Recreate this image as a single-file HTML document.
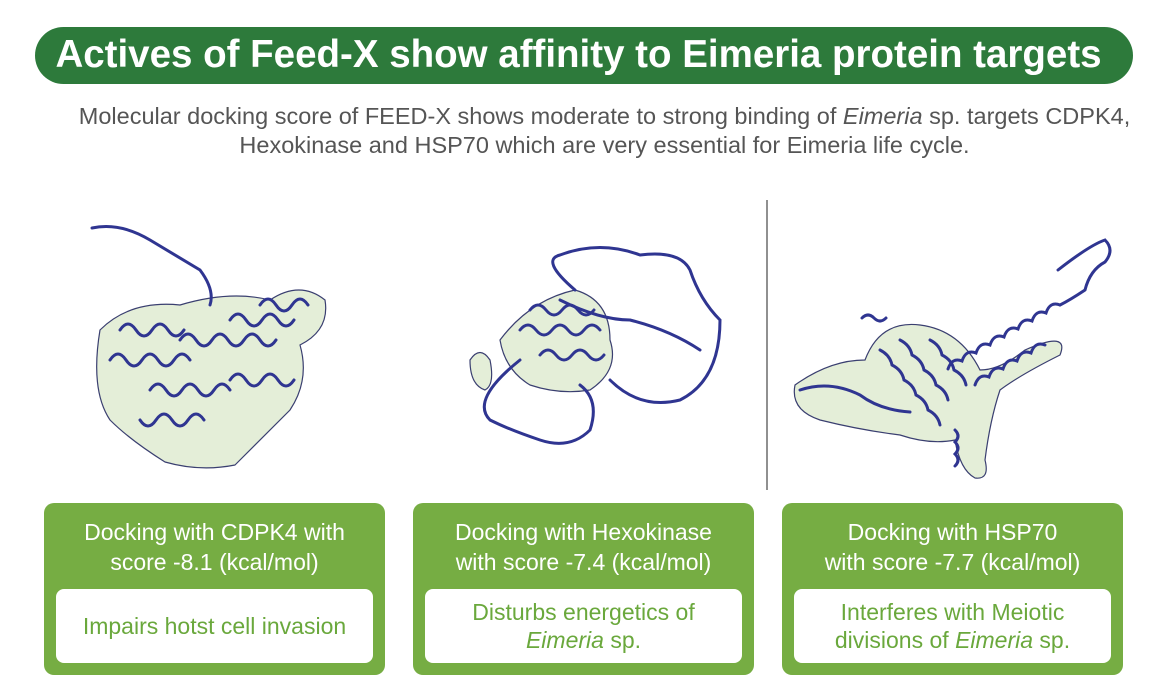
<!DOCTYPE html>
<html><head><meta charset="utf-8"><style>
body{margin:0;width:1151px;height:697px;background:#fff;position:relative;overflow:hidden;font-family:"Liberation Sans",sans-serif}
.pill{position:absolute;left:35px;top:27px;width:1098px;height:57px;background:#2d7a3b;border-radius:29px}
.title{position:absolute;left:0;top:31px;width:1157px;text-align:center;color:#fff;font-weight:bold;font-size:38.5px;line-height:48px;white-space:nowrap}
.sub{position:absolute;left:-8px;width:1225px;text-align:center;color:#555;font-size:23.5px;white-space:nowrap}
.box{position:absolute;top:503px;width:341px;height:172px;background:#76ad43;border-radius:10px}
.box .h{position:absolute;top:14px;left:0;width:100%;text-align:center;color:#fff;font-size:23px;line-height:30px}
.box .w{position:absolute;left:12px;right:12px;top:86px;height:74px;background:#fff;border-radius:8px;color:#6aa83c;font-size:23px;line-height:28px;text-align:center;display:table;width:317px}
.box .w div{display:table-cell;vertical-align:middle}
</style></head><body>
<div class="pill"></div>
<div class="title">Actives of Feed-X show affinity to Eimeria protein targets</div>
<div class="sub" style="top:103px;width:1225px;left:-8px"><div style="width:1225px;text-align:center">Molecular docking score of FEED-X shows moderate to strong binding of <i>Eimeria</i> sp. targets CDPK4,</div></div>
<div class="sub" style="top:132px;width:1225px;left:-8px">Hexokinase and HSP70 which are very essential for Eimeria life cycle.</div>

<svg width="1151" height="697" style="position:absolute;left:0;top:0" xmlns="http://www.w3.org/2000/svg">
<line x1="767" y1="200" x2="767" y2="490" stroke="#555" stroke-width="1.3"/>
<g fill="#e4eed8" stroke="#3a3f70" stroke-width="1.2">
<path d="M100 330 Q130 300 180 305 Q230 290 270 300 Q300 280 325 300 Q330 330 300 345 Q310 380 290 410 Q260 440 235 465 Q200 472 165 462 Q130 440 110 420 Q90 390 100 330Z"/>
<path d="M500 340 Q530 300 575 290 Q610 300 610 340 Q620 370 590 390 Q560 395 530 385 Q505 370 500 340Z"/>
<path d="M470 360 Q480 345 490 360 Q495 385 485 390 Q470 385 470 360Z"/>
<path d="M795 385 Q830 360 865 360 Q880 320 920 325 Q960 330 980 370 Q1000 370 1025 350 Q1070 330 1060 355 Q1020 375 1000 390 Q990 420 985 460 Q990 480 975 478 Q960 470 955 440 Q930 445 900 435 Q860 430 820 420 Q790 410 795 385Z"/>
</g>
<g fill="none" stroke="#2f3591" stroke-width="3" stroke-linecap="round">
<path d="M92 228 Q120 222 150 240 Q180 258 200 270 Q215 290 210 305"/>
<path d="M120 330 q8 -12 16 0 q8 12 16 0 q8 -12 16 0 q8 12 16 0"/>
<path d="M110 360 q8 -12 16 0 q8 12 16 0 q8 -12 16 0 q8 12 16 0 q8 -12 16 0"/>
<path d="M180 340 q8 -12 16 0 q8 12 16 0 q8 -12 16 0 q8 12 16 0 q8 -12 16 0 q8 12 16 0"/>
<path d="M230 320 q8 -12 16 0 q8 12 16 0 q8 -12 16 0 q8 12 16 0"/>
<path d="M150 390 q8 -12 16 0 q8 12 16 0 q8 -12 16 0 q8 12 16 0 q8 -12 16 0"/>
<path d="M140 420 q8 12 16 0 q8 -12 16 0 q8 12 16 0 q8 -12 16 0"/>
<path d="M230 380 q8 -12 16 0 q8 12 16 0 q8 -12 16 0 q8 12 16 0"/>
<path d="M260 305 q8 -12 16 0 q8 12 16 0 q8 -12 16 0"/>
<path d="M575 290 Q540 260 560 255 Q600 240 640 255 Q680 250 690 270 Q700 300 720 320 Q720 380 680 400 Q640 410 610 380"/>
<path d="M520 360 Q470 400 490 420 Q510 430 540 440 Q570 450 590 430 Q600 400 580 385"/>
<path d="M560 300 Q600 320 630 320 Q670 330 700 350"/>
<path d="M530 310 q8 -10 16 0 q8 10 16 0 q8 -10 16 0 q8 10 16 0"/>
<path d="M520 330 q8 -10 16 0 q8 10 16 0 q8 -10 16 0 q8 10 16 0 q8 -10 16 0"/>
<path d="M540 355 q8 -10 16 0 q8 10 16 0 q8 -10 16 0 q8 10 16 0"/>
<path d="M1058 270 Q1090 245 1105 240 Q1115 250 1105 262 Q1090 270 1085 290 Q1070 300 1060 305"/>
<path d="M1060 305 q-10 -4 -14 8 q-10 -4 -14 8 q-10 -4 -14 8 q-10 -4 -14 8 q-10 -4 -14 8 q-10 -4 -14 8 q-10 -4 -14 8 q-10 -4 -14 8"/>
<path d="M1045 345 q-10 -4 -14 8 q-10 -4 -14 8 q-10 -4 -14 8 q-10 -4 -14 8 q-10 -4 -14 8"/>
<path d="M900 340 q10 5 12 15 q10 5 12 15 q10 5 12 15 q10 5 12 15"/>
<path d="M880 350 q10 5 12 15 q10 5 12 15 q10 5 12 15 q10 5 12 15 q10 5 12 15"/>
<path d="M930 340 q10 5 12 15 q10 5 12 15 q10 5 12 15"/>
<path d="M955 430 q6 6 0 12 q6 6 0 12 q6 6 0 12"/>
<path d="M862 318 q6 -6 12 0 q6 6 12 0"/>
<path d="M800 390 Q830 380 860 395 Q880 410 910 412"/>
</g>
</svg>

<div class="box" style="left:44px"><div class="h">Docking with CDPK4 with<br>score -8.1 (kcal/mol)</div><div class="w"><div>Impairs hotst cell invasion</div></div></div>
<div class="box" style="left:413px"><div class="h">Docking with Hexokinase<br>with score -7.4 (kcal/mol)</div><div class="w"><div>Disturbs energetics of<br><i>Eimeria</i> sp.</div></div></div>
<div class="box" style="left:782px"><div class="h">Docking with HSP70<br>with score -7.7 (kcal/mol)</div><div class="w"><div>Interferes with Meiotic<br>divisions of <i>Eimeria</i> sp.</div></div></div>
</body></html>
